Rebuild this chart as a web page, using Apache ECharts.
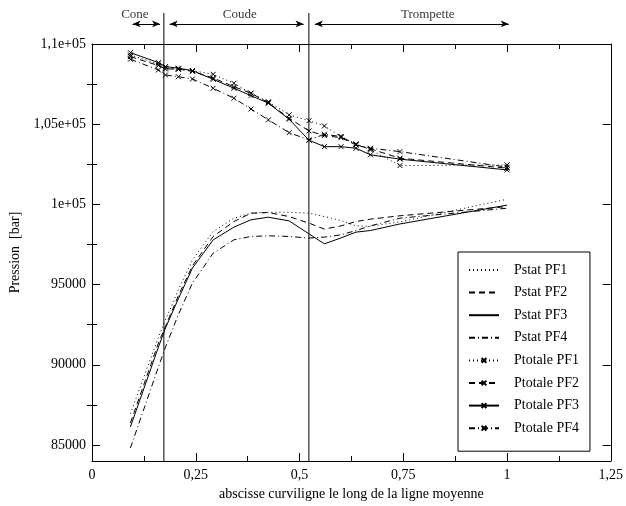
<!DOCTYPE html>
<html><head><meta charset="utf-8">
<script src="https://cdn.jsdelivr.net/npm/echarts@6/dist/echarts.min.js"></script>
<style>html,body{margin:0;padding:0;background:#fff}#c{width:626px;height:506px}</style>
</head><body><div id="c"></div>
<script>
const abscisse = [0.0925,0.16,0.177,0.208,0.242,0.292,0.342,0.383,0.425,0.475,0.523,0.56,0.60,0.636,0.671,0.742,1.0];
const pstatPF1 = [86950,91700,92800,94670,96540,98310,99140,99450,99510,99510,99450,99240,98990,98660,98640,98910,100320];
const pstatPF2 = [86370,91350,92390,94300,96170,98000,98930,99450,99490,99240,98830,98460,98660,98930,99080,99290,99860];
const pstatPF3 = [86120,91100,92290,94110,96030,97790,98580,99040,99200,98970,98160,97540,97910,98270,98370,98780,99950];
const pstatPF4 = [84810,89860,91100,93120,95090,96960,97790,98000,98040,98000,97900,97960,98100,98370,98660,99140,99760];
const ptotPF1 = [109320,108750,108510,108420,108340,108110,107550,106930,106400,105580,105220,104890,104230,103770,103400,102420,102460];
const ptotPF2 = [109210,108660,108440,108440,108290,107880,107340,106930,106340,105370,104580,104290,104160,103710,103460,102880,102260];
const ptotPF3 = [109460,108840,108590,108490,108340,107800,107240,106780,106310,105310,104000,103600,103600,103500,103090,102820,102150];
const ptotPF4 = [109050,108380,108070,107960,107820,107240,106620,105950,105270,104470,104020,104370,104230,103710,103500,103290,102320];
const seriesNames = ['Pstat PF1','Pstat PF2','Pstat PF3','Pstat PF4','Ptotale PF1','Ptotale PF2','Ptotale PF3','Ptotale PF4'];
const xTickValues = [0,0.25,0.5,0.75,1,1.25];
const xTickLabels = ['0','0,25','0,5','0,75','1','1,25'];
const yTickValues = [85000,90000,95000,100000,105000,110000];
const yTickLabels = ['85000','90000','95000','1e+05','1,05e+05','1,1e+05'];
const yMinorValues = [87500,92500,97500,102500,107500];
const zoneNames = ['Cone','Coude','Trompette'];
const zoneStart = [0.0972,0.186,0.5336];
const zoneEnd = [0.163,0.5066,0.998];
const zoneLabelX = [0.1027,0.3537,0.804];
const sectionBounds = [0.1732,0.5226];

const Y_MIN = 84000, Y_MAX = 110000;
const LABEL_Y = 0.756, ARROW_Y = 0.515, BOUND_TOP = 111930;
const FONT = 'Liberation Serif';
const dashes = [[1,3],[6,4],'solid',[6,3,1,3]];
const allData = [pstatPF1,pstatPF2,pstatPF3,pstatPF4,ptotPF1,ptotPF2,ptotPF3,ptotPF4];
const xMark = 'path://M0,0L10,10M10,0L0,10';

const series = allData.map((ys, i) => {
  const tot = i >= 4;
  return {
    name: seriesNames[i], type: 'line', xAxisIndex: 0, yAxisIndex: 0,
    data: abscisse.map((x, j) => [x, ys[j]]),
    symbol: xMark, symbolSize: 5, showSymbol: tot, showAllSymbol: true,
    lineStyle: { color: '#000', width: 1, type: dashes[i % 4] },
    itemStyle: tot ? { color: '#000', borderColor: '#000', borderWidth: 1 }
                   : { color: 'rgba(0,0,0,0)', borderColor: 'rgba(0,0,0,0)', borderWidth: 0 },
    emphasis: { disabled: true }, silent: true
  };
});
sectionBounds.forEach(b => series.push({
  type: 'line', xAxisIndex: 0, yAxisIndex: 0, clip: false, symbol: 'none', silent: true,
  data: [[b, Y_MIN], [b, BOUND_TOP]],
  lineStyle: { color: '#000', width: 1, type: 'solid' }
}));
series.push({
  type: 'scatter', xAxisIndex: 2, yAxisIndex: 4, clip: false, symbolSize: 0, silent: true,
  data: zoneNames.map((n, i) => ({ name: n, value: [zoneLabelX[i], LABEL_Y] })),
  label: { show: true, position: 'inside', formatter: '{b}', color: '#000', fontFamily: FONT, fontSize: 13 },
  markLine: {
    silent: true, symbol: ['arrow', 'arrow'], symbolSize: [5, 8], animation: false,
    lineStyle: { color: '#000', width: 1, type: 'solid' }, label: { show: false },
    emphasis: { disabled: true },
    data: zoneNames.map((n, i) => [{ coord: [zoneStart[i], ARROW_Y] }, { coord: [zoneEnd[i], ARROW_Y] }])
  }
});

const axisLine = { show: true, onZero: false, lineStyle: { color: '#000', width: 1 } };
const lbl = { color: '#000', fontFamily: FONT, fontSize: 14 };
const option = {
  animation: false,
  backgroundColor: '#fff',
  grid: [
    { left: 92, right: 12, top: 44, bottom: 45, containLabel: false },
    { left: 92, right: 12, top: 5, height: 39, containLabel: false }
  ],
  legend: {
    data: seriesNames, orient: 'vertical', left: 458, top: 252,
    itemWidth: 30, itemHeight: 6, itemGap: 8.6,
    padding: [11, 11, 16, 10],
    borderColor: '#000', borderWidth: 1, backgroundColor: '#fff',
    textStyle: { color: '#000', fontFamily: FONT, fontSize: 14, lineHeight: 14, padding: [0, 0, 0, 10] },
    selectedMode: false
  },
  xAxis: [
    { type: 'value', position: 'bottom', min: 0, max: 1.25, interval: 0.25,
      axisLine, axisTick: { show: true, inside: true, length: 8, lineStyle: { color: '#000' } },
      minorTick: { show: true, splitNumber: 2, length: 5, lineStyle: { color: '#000' } },
      splitLine: { show: false }, minorSplitLine: { show: false },
      axisLabel: { ...lbl, margin: 7, formatter: v => { const k = xTickValues.findIndex(t => Math.abs(t - v) < 1e-9); return k >= 0 ? xTickLabels[k] : ''; } },
      name: 'abscisse curviligne le long de la ligne moyenne', nameLocation: 'middle', nameGap: 26,
      nameTextStyle: { color: '#000', fontFamily: FONT, fontSize: 14 } },
    { type: 'value', position: 'top', min: 0, max: 1.25, interval: 0.25,
      axisLine, axisTick: { show: true, inside: true, length: 8, lineStyle: { color: '#000' } },
      minorTick: { show: true, splitNumber: 2, length: 5, lineStyle: { color: '#000' } },
      splitLine: { show: false }, axisLabel: { show: false } },
    { type: 'value', gridIndex: 1, min: 0, max: 1.25, show: false }
  ],
  yAxis: [
    { type: 'value', position: 'left', min: Y_MIN, max: Y_MAX,
      axisLine, splitLine: { show: false },
      axisTick: { show: true, inside: true, length: 8, customValues: yTickValues, lineStyle: { color: '#000' } },
      axisLabel: { ...lbl, margin: 6, customValues: yTickValues, formatter: v => { const k = yTickValues.indexOf(v); return k >= 0 ? yTickLabels[k] : ''; } },
      name: 'Pression  [bar]', nameLocation: 'middle', nameGap: 58,
      nameTextStyle: { color: '#000', fontFamily: FONT, fontSize: 14 } },
    { type: 'value', position: 'left', min: Y_MIN, max: Y_MAX,
      axisLine: { show: false }, splitLine: { show: false },
      axisTick: { show: true, inside: true, length: 5, customValues: yMinorValues, lineStyle: { color: '#000' } },
      axisLabel: { show: false } },
    { type: 'value', position: 'right', min: Y_MIN, max: Y_MAX,
      axisLine, splitLine: { show: false },
      axisTick: { show: true, inside: true, length: 8, customValues: yTickValues, lineStyle: { color: '#000' } },
      axisLabel: { show: false } },
    { type: 'value', position: 'right', min: Y_MIN, max: Y_MAX,
      axisLine: { show: false }, splitLine: { show: false },
      axisTick: { show: true, inside: true, length: 5, customValues: yMinorValues, lineStyle: { color: '#000' } },
      axisLabel: { show: false } },
    { type: 'value', gridIndex: 1, min: 0, max: 1, show: false }
  ],
  series
};
echarts.init(document.getElementById('c'), null, { renderer: 'canvas' }).setOption(option);
</script></body></html>
